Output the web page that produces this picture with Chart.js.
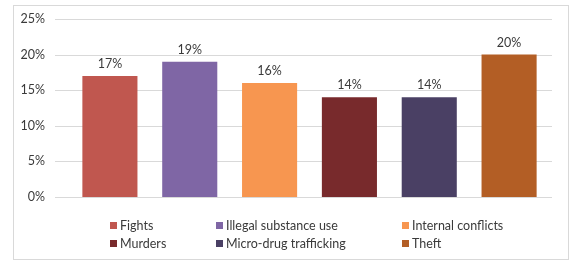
<!DOCTYPE html>
<html>
<head>
<meta charset="utf-8">
<script src="https://cdn.jsdelivr.net/npm/chart.js@4"></script>
<style>
  html, body { margin: 0; padding: 0; background: #fff; }
  #wrap { position: relative; width: 576px; height: 265px; }
  #frame { position: absolute; left: 13px; top: 5px; width: 556px; height: 255px; border: 1px solid #d9d9d9; box-sizing: border-box; }
  canvas { position: absolute; left: 0; top: 0; }
</style>
</head>
<body>
<div id="wrap">
  <div id="frame"></div>
  <canvas id="chart" width="576" height="265"></canvas>
</div>
<script>
// Chart data
const categories = ["Fights", "Illegal substance use", "Internal conflicts", "Murders", "Micro-drug trafficking", "Theft"];
const shares = [17, 19, 16, 14, 14, 20];
const barColors = ["#c0574f", "#7f66a5", "#f79650", "#782a2c", "#4a4064", "#b35e25"];
const yTicks = [0, 5, 10, 15, 20, 25];

const FONT = "Lato, sans-serif";
const TEXT_COLOR = "#3a3a3a";

// Horizontal grid lines, wider than the bar area
const gridPlugin = {
  id: "grid",
  beforeDatasetsDraw(chart) {
    const ctx = chart.ctx;
    const y = chart.scales.y;
    ctx.save();
    ctx.strokeStyle = "#d9d9d9";
    ctx.lineWidth = 1;
    yTicks.forEach(function (t) {
      const py = Math.round(y.getPixelForValue(t)) + 0.5;
      ctx.beginPath();
      ctx.moveTo(55, py);
      ctx.lineTo(552, py);
      ctx.stroke();
    });
    ctx.restore();
  },
};

// Value labels above bars
const valueLabels = {
  id: "valueLabels",
  afterDatasetsDraw(chart) {
    const ctx = chart.ctx;
    const meta = chart.getDatasetMeta(0);
    ctx.save();
    ctx.font = "12.5px " + FONT;
    ctx.fillStyle = TEXT_COLOR;
    ctx.textAlign = "center";
    ctx.textBaseline = "middle";
    meta.data.forEach(function (bar, i) {
      ctx.fillText(shares[i] + "%", bar.x, bar.y - 12);
    });
    ctx.restore();
  },
};

// Legend in three columns, two rows
const gridLegend = {
  id: "gridLegend",
  afterDraw(chart) {
    const ctx = chart.ctx;
    const colX = [110, 216, 402];
    const rowY = [226, 244];
    ctx.save();
    ctx.font = "12.5px " + FONT;
    ctx.textBaseline = "middle";
    ctx.textAlign = "left";
    categories.forEach(function (name, i) {
      const x = colX[i % 3];
      const y = rowY[Math.floor(i / 3)];
      ctx.fillStyle = barColors[i];
      ctx.fillRect(x, y - 4, 7, 7);
      ctx.fillStyle = TEXT_COLOR;
      ctx.fillText(name, x + 10, y);
    });
    ctx.restore();
  },
};

new Chart(document.getElementById("chart"), {
  type: "bar",
  data: {
    labels: categories,
    datasets: [
      {
        data: shares,
        backgroundColor: barColors,
        borderWidth: 0,
        barPercentage: 0.69,
        categoryPercentage: 1,
      },
    ],
  },
  options: {
    responsive: false,
    animation: false,
    layout: { padding: { left: 0, right: 27, top: 19, bottom: 68 } },
    plugins: {
      legend: { display: false },
      tooltip: { enabled: false },
    },
    scales: {
      x: { display: false },
      y: {
        min: 0,
        max: 25,
        afterFit: function (scale) {
          scale.width = 70;
          scale.paddingTop = 0;
          scale.paddingBottom = 0;
        },
        afterBuildTicks: function (scale) {
          scale.ticks = yTicks.map((v) => ({ value: v }));
        },
        grid: { display: false, drawTicks: false },
        border: { display: false },
        ticks: {
          padding: 25,
          color: TEXT_COLOR,
          font: { family: FONT, size: 12.5 },
          callback: (v) => v + "%",
        },
      },
    },
  },
  plugins: [gridPlugin, valueLabels, gridLegend],
});
</script>
</body>
</html>
